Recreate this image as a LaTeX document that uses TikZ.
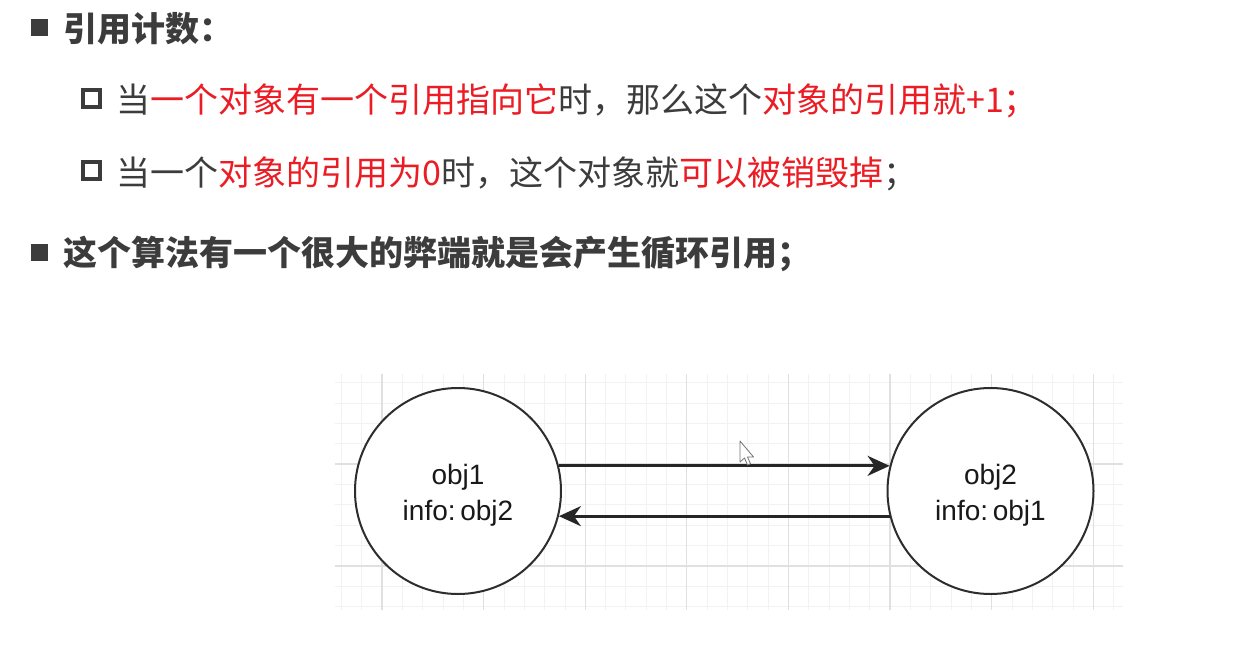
\documentclass[tikz,border=0pt]{standalone}
\usepackage{fontspec}
\setmainfont{Liberation Sans}
\newfontfamily\cjk{Noto Sans CJK SC}
\usetikzlibrary{arrows.meta}

\definecolor{ink}{RGB}{60,60,60}
\definecolor{hot}{RGB}{236,28,36}
\definecolor{linegray}{RGB}{45,45,45}

\tikzset{
  line1/.style={anchor=base west, inner sep=0pt, text=ink,
    font=\cjk\fontsize{34}{40}\selectfont},
  headline/.style={line1, font=\cjk\bfseries\fontsize{34}{40}\selectfont},
  fullbullet/.style={fill=ink, draw=none},
  openbullet/.style={draw=ink, line width=4.5pt, fill=white},
  objnode/.style={circle, draw=linegray, line width=2pt, minimum size=206pt,
    inner sep=0pt, fill=white},
  objtext/.style={align=center, inner sep=0pt, text=black!90, yshift=-4pt,
    font=\fontsize{28}{36}\selectfont},
  refarrow/.style={draw=black!85, line width=3pt,
    -{Stealth[length=22pt, width=20pt, inset=7pt]}},
  minorgrid/.style={draw=black!5, line width=0.8pt},
  majorgrid/.style={draw=black!12, line width=1.2pt},
}

\newcommand{\hl}[1]{\textcolor{hot}{#1}}

\begin{document}
\begin{tikzpicture}[x=1pt, y=-1pt]
  \useasboundingbox (0,0) rectangle (1237,651);
  \fill[white] (0,0) rectangle (1237,651);

  % bullet list
  \fill[fullbullet] (31,19) rectangle (48,36);
  \node[headline] (h1) at (63,41) {引用计数：};

  \draw[openbullet] (83,90) rectangle (100,107);
  \node[line1] (p1) at (116,112)
    {当\hl{一个对象有一个引用指向它}时，那么这个\hl{对象的引用就+1；}};

  \draw[openbullet] (83,162) rectangle (100,179);
  \node[line1] (p2) at (116,185)
    {当一个\hl{对象的引用为0}时，这个对象就\hl{可以被销毁掉}；};

  \fill[fullbullet] (31,244) rectangle (48,261);
  \node[headline] (h2) at (63,265) {这个算法有一个很大的弊端就是会产生循环引用；};

  % drawing canvas grid
  \foreach \i in {0,...,38} {
    \draw[minorgrid] ({341.4+20.32*\i},374) -- ({341.4+20.32*\i},610);
  }
  \foreach \j in {0,...,11} {
    \draw[minorgrid] (335,{382.7+20.32*\j}) -- (1123,{382.7+20.32*\j});
  }
  \foreach \i in {0,...,7} {
    \draw[majorgrid] ({382+101.6*\i},374) -- ({382+101.6*\i},610);
  }
  \foreach \j in {0,1} {
    \draw[majorgrid] (335,{464+102*\j}) -- (1123,{464+102*\j});
  }

  % objects referencing each other
  \node[objnode] (obj1) at (458,491) {};
  \node[objnode] (obj2) at (990.5,491) {};
  \node[objtext] (t1) at (obj1.center) {obj1\\info:\,obj2};
  \node[objtext] (t2) at (obj2.center) {obj2\\info:\,obj1};

  \draw[refarrow] (obj1.14) -- (obj2.166);
  \draw[refarrow] (obj2.194) -- (obj1.-14);

  % mouse pointer
  \draw[black!55, fill=white, line width=0.8pt, line join=round]
    (740,441) -- (740,462) -- (744.5,458) -- (747.5,465) -- (750.5,463.8)
    -- (747.5,457) -- (753.5,457) -- cycle;
\end{tikzpicture}
\end{document}
